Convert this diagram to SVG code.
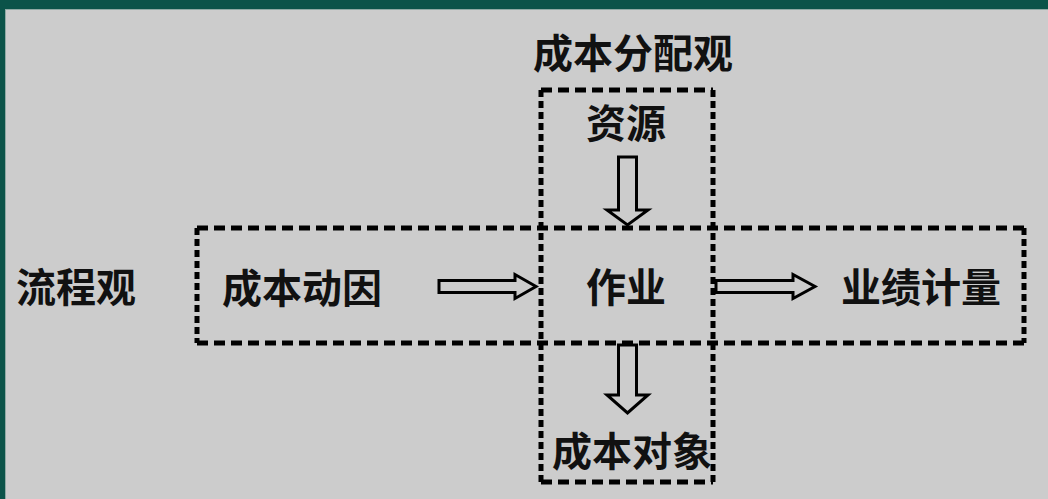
<svg xmlns="http://www.w3.org/2000/svg" width="1048" height="499" viewBox="0 0 1048 499">
<style>
.t{font-family:"Noto Sans CJK SC","Noto Sans",sans-serif;font-size:40px;font-weight:bold;fill:#111;text-anchor:middle;dominant-baseline:central}
.h{stroke:#000;stroke-width:5;stroke-dasharray:11 6;fill:none}
.v{stroke:#000;stroke-width:5;stroke-dasharray:7 4;fill:none}
.a{fill:#cccccc;stroke:#000;stroke-width:3;stroke-linejoin:miter}
</style>
<rect x="0" y="0" width="1048" height="499" fill="#0b5349"/>
<rect x="5" y="9" width="1043" height="490" fill="#8fa9a4"/>
<rect x="6" y="10" width="1042" height="489" fill="#cccccc"/>
<g id="frame-process">
<line class="h" x1="197" y1="228" x2="1024" y2="228"/>
<line class="h" x1="197" y1="343" x2="1024" y2="343"/>
<line class="v" x1="197" y1="228" x2="197" y2="343"/>
<line class="v" x1="1024" y1="228" x2="1024" y2="343"/>
</g>
<g id="frame-allocation">
<line class="h" x1="541" y1="90" x2="713" y2="90"/>
<line class="h" x1="541" y1="482" x2="713" y2="482"/>
<line class="v" x1="541" y1="90" x2="541" y2="482"/>
<line class="v" x1="713" y1="90" x2="713" y2="482"/>
</g>
<g id="connectors">
<polygon class="a" points="439,280.5 515,280.5 515,274.5 536,286.5 515,298.5 515,292.5 439,292.5"/>
<polygon class="a" points="716,280.5 793,280.5 793,274.5 815,286.5 793,298.5 793,292.5 716,292.5"/>
<polygon class="a" points="618.5,157 636.5,157 636.5,210 648,210 627.5,225 607,210 618.5,210"/>
<polygon class="a" points="618.5,345 636.5,345 636.5,395 648,395 627.5,413 607,395 618.5,395"/>
</g>
<g id="label-allocation"><text class="t" x="633" y="51">成本分配观</text></g>
<g id="label-process"><text class="t" x="76" y="285">流程观</text></g>
<g id="node-resource"><text class="t" x="626" y="121">资源</text></g>
<g id="node-activity"><text class="t" x="626" y="285">作业</text></g>
<g id="node-driver"><text class="t" x="302" y="286">成本动因</text></g>
<g id="node-performance"><text class="t" x="921" y="285">业绩计量</text></g>
<g id="node-object"><text class="t" x="632" y="449">成本对象</text></g>
</svg>
